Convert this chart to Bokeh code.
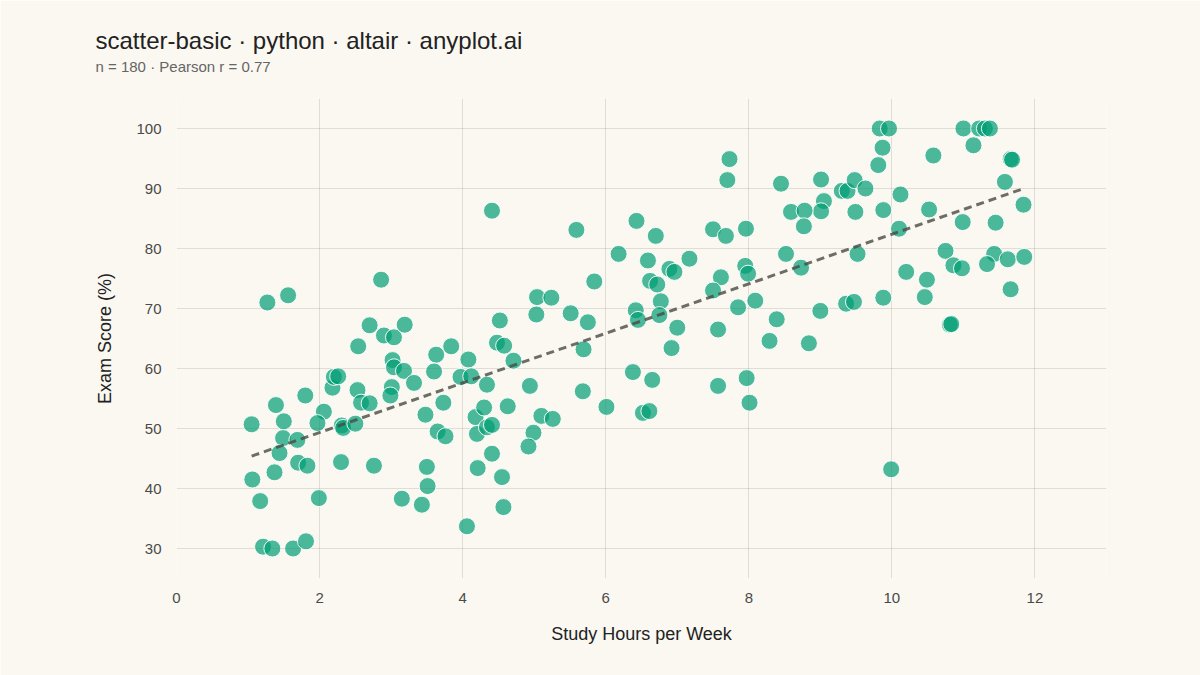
import numpy as np
from bokeh.plotting import figure
from bokeh.models import ColumnDataSource, FixedTicker, Range1d, Title
from bokeh.embed import file_html
from bokeh.resources import INLINE

# values
study_hours = [
    1.27, 1.56, 2.86, 2.70, 2.90, 3.04, 3.19, 2.54, 3.02, 3.04,
    3.18, 3.32, 3.01, 2.99, 2.18, 2.20, 2.26, 1.80, 1.39, 1.50,
    1.05, 2.06, 1.97, 2.53, 2.58, 2.70, 2.31, 2.33, 2.50, 1.49,
    1.69, 1.44, 1.70, 1.83, 1.37, 1.06, 1.17, 1.99, 2.30, 2.76,
    1.21, 1.34, 1.63, 1.81, 3.48, 3.73, 3.65, 3.76, 3.50, 3.51,
    3.43, 3.15, 4.06, 3.63, 3.84, 3.60, 4.08, 3.97, 4.12, 4.34,
    4.18, 4.30, 4.20, 4.34, 4.41, 4.41, 4.21, 4.41, 5.59, 6.43,
    6.70, 6.18, 6.59, 6.89, 6.96, 7.17, 6.62, 6.72, 6.77, 6.42,
    6.45, 6.75, 7.00, 6.92, 5.84, 5.04, 5.24, 5.03, 5.51, 5.75,
    5.69, 4.52, 4.48, 4.58, 4.71, 4.94, 5.68, 6.01, 6.38, 6.65,
    6.52, 6.61, 5.10, 5.26, 4.99, 4.92, 4.63, 4.55, 4.57, 7.73,
    7.70, 8.45, 9.01, 9.87, 9.81, 9.30, 9.38, 9.48, 9.63, 9.05,
    9.01, 8.59, 8.78, 8.77, 9.49, 9.88, 10.12, 10.10, 7.50, 7.68,
    7.96, 8.52, 7.95, 7.99, 7.61, 7.50, 8.73, 9.52, 10.20, 8.09,
    7.85, 8.39, 7.57, 8.29, 8.84, 9.00, 9.36, 9.47, 9.88, 7.57,
    7.97, 8.01, 9.83, 9.96, 10.58, 11.00, 11.22, 11.30, 11.37, 11.14,
    11.66, 11.68, 11.58, 11.84, 10.52, 10.99, 11.45, 10.75, 10.86, 10.98,
    11.43, 11.33, 11.62, 11.85, 10.49, 11.66, 10.46, 10.81, 10.83, 9.99,
]
exam_score = [
    71.0, 72.2, 74.8, 67.2, 65.5, 65.2, 67.3, 63.7, 61.4, 60.2,
    59.6, 57.6, 56.9, 55.5, 56.8, 58.6, 58.7, 55.5, 53.9, 51.2,
    50.7, 52.8, 50.9, 56.4, 54.3, 54.2, 50.5, 50.1, 50.8, 48.4,
    48.1, 45.9, 44.3, 43.8, 42.7, 41.5, 37.9, 38.4, 44.4, 43.8,
    30.3, 30.0, 30.0, 31.2, 52.3, 54.3, 49.5, 48.7, 43.6, 40.4,
    37.3, 38.3, 33.7, 62.3, 63.7, 59.5, 61.5, 58.6, 58.7, 57.3,
    51.9, 53.5, 49.1, 50.2, 50.6, 45.8, 43.4, 86.3, 83.1, 84.6,
    82.1, 79.1, 78.0, 76.6, 76.1, 78.3, 74.6, 74.0, 71.2, 69.7,
    68.1, 68.9, 66.8, 63.4, 74.5, 71.9, 71.8, 69.0, 69.2, 67.7,
    63.2, 68.0, 64.3, 63.8, 61.3, 57.1, 56.2, 53.6, 59.4, 58.1,
    52.6, 52.9, 52.1, 51.6, 49.3, 47.0, 53.7, 41.9, 36.9, 94.9,
    91.4, 90.8, 91.5, 96.8, 93.9, 89.6, 89.6, 91.4, 90.0, 87.9,
    86.2, 86.1, 86.3, 83.7, 86.1, 86.4, 89.0, 83.3, 83.2, 82.1,
    83.3, 79.1, 77.1, 75.8, 75.2, 73.0, 76.8, 79.1, 76.1, 71.3,
    70.2, 68.2, 66.5, 64.6, 64.2, 69.6, 70.8, 71.1, 71.8, 57.1,
    58.4, 54.3, 100.0, 100.0, 95.5, 100.0, 100.0, 100.0, 100.0, 97.2,
    94.9, 94.8, 91.1, 87.3, 86.5, 84.4, 84.3, 79.6, 77.2, 76.7,
    79.1, 77.4, 78.2, 78.6, 74.8, 73.2, 71.9, 67.3, 67.4, 43.2,
]
x_ticks = [0, 2, 4, 6, 8, 10, 12]
y_ticks = [30, 40, 50, 60, 70, 80, 90, 100]

bg = "#FAF8F1"
ink = "#222222"
muted = "#4A4A4A"
font = "Liberation Sans"

n = len(study_hours)
r = np.corrcoef(study_hours, exam_score)[0, 1]
slope, intercept = np.polyfit(study_hours, exam_score, 1)
fit_x = [min(study_hours), max(study_hours)]
fit_y = [slope * v + intercept for v in fit_x]

p = figure(
    width=1200, height=675,
    x_range=Range1d(0, 13), y_range=Range1d(25, 105),
    output_backend="svg", toolbar_location=None,
    background_fill_color=bg, border_fill_color=bg,
    min_border_left=176, min_border_right=94,
    min_border_top=98, min_border_bottom=97,
    outline_line_color=None,
)

# subtitle first (closest to the plot), then the main title above it
p.add_layout(Title(text=f"n = {n} · Pearson r = {r:.2f}", text_font=font,
                   text_font_size="15px", text_font_style="normal",
                   text_color="#666666", align="left", offset=-81,
                   standoff=48), "above")
p.add_layout(Title(text="scatter-basic · python · altair · anyplot.ai",
                   text_font=font, text_font_size="24px",
                   text_font_style="normal", text_color=ink, align="left",
                   offset=-81, standoff=-44), "above")

src = ColumnDataSource(data=dict(x=study_hours, y=exam_score))
p.scatter("x", "y", source=src, size=17, fill_color="#009E73",
          fill_alpha=0.7, line_color="white", line_width=1, line_alpha=0.9)

p.line(fit_x, fit_y, line_color="#4A4A44", line_alpha=0.8, line_width=3,
       line_dash="8 5")

p.xaxis.ticker = FixedTicker(ticks=x_ticks)
p.yaxis.ticker = FixedTicker(ticks=y_ticks)
p.xaxis.axis_label = "Study Hours per Week"
p.yaxis.axis_label = "Exam Score (%)"

for ax in (p.xaxis, p.yaxis):
    ax.axis_line_color = None
    ax.major_tick_line_color = None
    ax.minor_tick_line_color = None
    ax.major_tick_out = 0
    ax.major_tick_in = 0
    ax.minor_tick_out = 0
    ax.minor_tick_in = 0
    ax.major_label_text_font = font
    ax.major_label_text_font_size = "15px"
    ax.major_label_text_color = muted
    ax.axis_label_text_font = font
    ax.axis_label_text_font_size = "18px"
    ax.axis_label_text_font_style = "normal"
    ax.axis_label_text_color = ink

p.xaxis.major_label_standoff = 14
p.xaxis.axis_label_standoff = 18
p.yaxis.major_label_standoff = 15
p.yaxis.axis_label_standoff = 18

p.grid.grid_line_color = "#1E1E1A"
p.grid.grid_line_alpha = 0.12
p.grid.grid_line_width = 1

open("out.html", "w").write(file_html(p, INLINE))
